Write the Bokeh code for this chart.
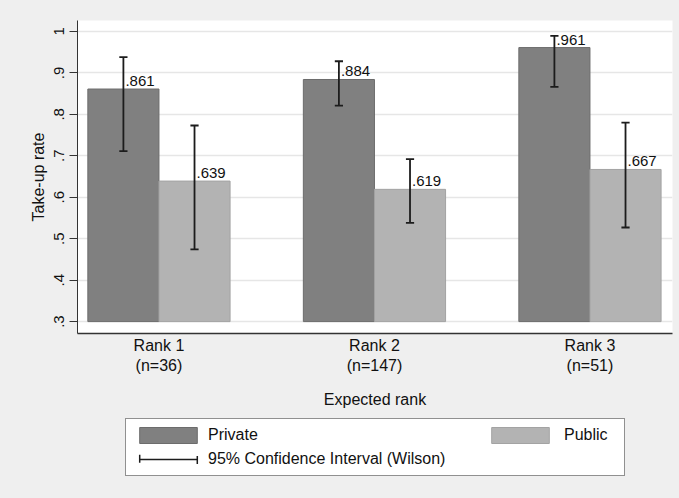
from bokeh.plotting import figure
from bokeh.layouts import column
from bokeh.models import Range1d, FixedTicker, Legend, LegendItem, ColumnDataSource
from bokeh.embed import file_html
from bokeh.resources import INLINE
from bokeh.core.properties import value

# ---- data ----
groups = [1, 2, 3]
categories = ["Rank 1\n(n=36)", "Rank 2\n(n=147)", "Rank 3\n(n=51)"]
private = [0.861, 0.884, 0.961]
public = [0.639, 0.619, 0.667]
private_lower = [0.711, 0.821, 0.866]
private_upper = [0.938, 0.928, 0.989]
public_lower = [0.474, 0.538, 0.527]
public_upper = [0.773, 0.692, 0.780]
y_ticks = [0.3, 0.4, 0.5, 0.6, 0.7, 0.8, 0.9, 1.0]
y_tick_labels = [".3", ".4", ".5", ".6", ".7", ".8", ".9", "1"]
bar_base = 0.3

FONT = "Liberation Sans"
TXT = "#111111"
BG = "#efefef"
PRIV_FILL, PRIV_LINE = "#808080", "#6c6c6c"
PUB_FILL, PUB_LINE = "#b3b3b3", "#a3a3a3"
CI_COLOR = "#1c1c1c"
BAR_W = 0.33
CAP = 0.019

def lab(v):
    return f"{v:.3f}".lstrip("0")

def make_source(vals, lo, hi, shift):
    xs = [g + shift for g in groups]
    return ColumnDataSource(dict(
        x=xs, top=vals, lower=lo, upper=hi,
        cap_l=[x - CAP for x in xs], cap_r=[x + CAP for x in xs],
        label=[lab(v) for v in vals],
    ))

src_priv = make_source(private, private_lower, private_upper, -BAR_W / 2)
src_pub = make_source(public, public_lower, public_upper, BAR_W / 2)

p = figure(width=679, height=410, output_backend="svg", toolbar_location=None,
           x_range=Range1d(0.622, 3.383), y_range=Range1d(0.2713, 1.0263),
           min_border_left=77, min_border_right=7, min_border_top=20, min_border_bottom=74)
p.background_fill_color = "white"
p.border_fill_color = BG
p.outline_line_color = None

p.vbar(x="x", top="top", bottom=bar_base, width=BAR_W, source=src_priv,
       fill_color=PRIV_FILL, line_color=PRIV_LINE, line_width=1)
p.vbar(x="x", top="top", bottom=bar_base, width=BAR_W, source=src_pub,
       fill_color=PUB_FILL, line_color=PUB_LINE, line_width=1)

for src in (src_priv, src_pub):
    p.segment(x0="x", x1="x", y0="lower", y1="upper", source=src,
              line_color=CI_COLOR, line_width=1.8)
    p.segment(x0="cap_l", x1="cap_r", y0="lower", y1="lower", source=src,
              line_color=CI_COLOR, line_width=1.8)
    p.segment(x0="cap_l", x1="cap_r", y0="upper", y1="upper", source=src,
              line_color=CI_COLOR, line_width=1.8)
    p.text(x="x", y="top", text="label", source=src, x_offset=2, y_offset=-8,
           text_align="left", text_baseline="alphabetic",
           text_font=value(FONT), text_font_size="15px", text_color=TXT)

# ---- axes ----
p.xgrid.visible = False
p.ygrid.grid_line_color = "#e6e6e6"
p.ygrid.grid_line_width = 1.5
p.ygrid.ticker = FixedTicker(ticks=y_ticks)

ya = p.yaxis[0]
ya.ticker = FixedTicker(ticks=y_ticks)
ya.major_label_overrides = dict(zip(y_ticks, y_tick_labels))
ya.major_label_orientation = "vertical"
ya.minor_tick_line_color = None
ya.major_tick_in = 0
ya.major_tick_out = 8
ya.major_tick_line_color = "#333333"
ya.axis_line_color = "#333333"
ya.major_label_standoff = 5
ya.major_label_text_font = FONT
ya.major_label_text_font_size = "15px"
ya.major_label_text_color = TXT
ya.axis_label = "Take-up rate"
ya.axis_label_text_font = FONT
ya.axis_label_text_font_size = "16px"
ya.axis_label_text_font_style = "normal"
ya.axis_label_text_color = TXT
ya.axis_label_standoff = 5

xa = p.xaxis[0]
xa.ticker = FixedTicker(ticks=groups)
xa.major_label_overrides = dict(zip(groups, categories))
xa.minor_tick_line_color = None
xa.major_tick_in = 0
xa.major_tick_out = 0
xa.axis_line_color = "#333333"
xa.axis_line_width = 1.5
xa.major_label_standoff = 3
xa.major_label_text_font = FONT
xa.major_label_text_font_size = "16px"
xa.major_label_text_color = TXT
xa.axis_label = "Expected rank"
xa.axis_label_text_font = FONT
xa.axis_label_text_font_size = "16px"
xa.axis_label_text_font_style = "normal"
xa.axis_label_text_color = TXT
xa.axis_label_standoff = 14

# ---- legend strip below the chart (its own glyphs sit outside its view) ----
q = figure(width=679, height=88, output_backend="svg", toolbar_location=None,
           x_range=Range1d(50, 51), y_range=Range1d(50, 51),
           min_border=0, x_axis_type=None, y_axis_type=None)
q.background_fill_color = None
q.border_fill_color = None
q.outline_line_color = None
q.grid.visible = False

lp = q.vbar(x="x", top="top", bottom=bar_base, width=BAR_W, source=src_priv,
            fill_color=PRIV_FILL, line_color=PRIV_LINE, line_width=1)
lu = q.vbar(x="x", top="top", bottom=bar_base, width=BAR_W, source=src_pub,
            fill_color=PUB_FILL, line_color=PUB_LINE, line_width=1)
lc = q.segment(x0="x", x1="x", y0="lower", y1="upper", source=src_priv,
               line_color=CI_COLOR, line_width=1.5, line_dash="0 7 58 7")
lcap = q.quad(left="cap_l", right="cap_r", bottom="lower", top="upper", source=src_priv,
              fill_color=None, line_color=CI_COLOR, line_width=1.5,
              line_dash="8 66", line_dash_offset=12)

common = dict(glyph_width=72, glyph_height=20, label_height=20, spacing=4, padding=6,
              label_text_font=FONT, label_text_font_size="16px",
              label_text_color=TXT, margin=0)
leg1 = Legend(items=[LegendItem(label="Private", renderers=[lp]),
                     LegendItem(label="95% Confidence Interval (Wilson)", renderers=[lc, lcap])],
              location=(48, 22), label_standoff=4, label_width=410,
              border_line_color="#222222", border_line_width=1.2,
              background_fill_color="white", background_fill_alpha=1.0, **common)
leg2 = Legend(items=[LegendItem(label="Public", renderers=[lu])],
              location=(407, 53), label_standoff=8,
              border_line_color=None, background_fill_alpha=0.0, **common)
q.add_layout(leg1, "center")
q.add_layout(leg2, "center")

layout = column(p, q, spacing=0, styles={"background-color": BG})
open("out.html", "w").write(file_html(layout, INLINE))
